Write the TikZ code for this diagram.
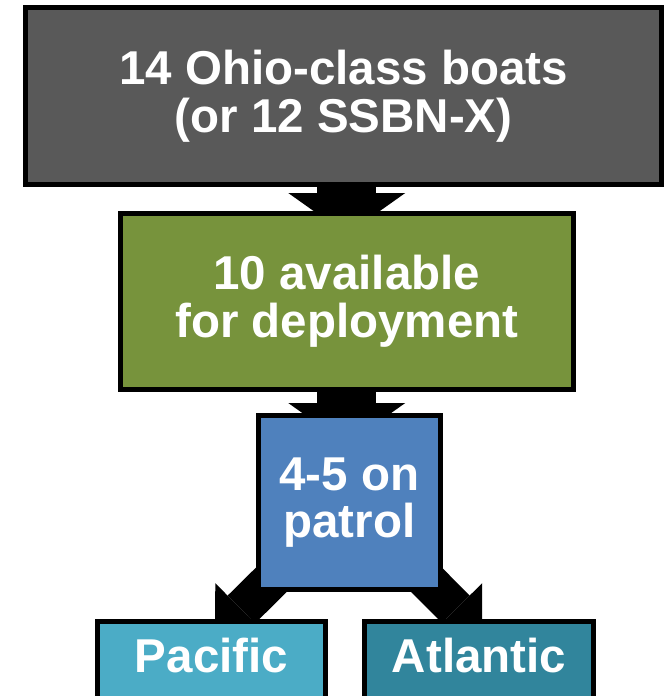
\documentclass[tikz,border=0pt]{standalone}
\usepackage{fontspec}
\setmainfont{Liberation Sans}
\usepackage{xcolor}
\usepackage{tikz}
\usetikzlibrary{arrows.meta, calc, backgrounds}

\definecolor{ohiogrey}{HTML}{595959}
\definecolor{deploygreen}{HTML}{77933C}
\definecolor{patrolblue}{HTML}{4F81BD}
\definecolor{pacificcyan}{HTML}{4BACC6}
\definecolor{atlanticteal}{HTML}{31859C}

\begin{document}
\begin{tikzpicture}[x=1pt,y=-1pt,
    box/.style={draw=black,line width=5pt,text=white,align=center,
                inner sep=0pt,outer sep=0pt,
                font=\fontsize{47.5}{47.5}\selectfont\bfseries},
    bigarrow/.style={line width=59pt,
                -{Triangle[width=117pt,length=41.5pt,line width=0pt]}},
    diagarrow/.style={line width=39pt,
                -{Triangle[width=74pt,length=37pt,line width=0pt]}}]
  \useasboundingbox (0,0) rectangle (665,696);
  \clip (0,0) rectangle (665,696);
  % ---- stacked boxes ----
  \node[box,fill=ohiogrey,minimum width=636pt,minimum height=177pt]
    (ohio) at (343.5,96) {14 Ohio-class boats\\(or 12 SSBN-X)};
  \node[box,fill=deploygreen,minimum width=452.5pt,minimum height=176pt]
    (avail) at (346.75,301) {10 available\\for deployment};
  \node[box,fill=patrolblue,minimum width=182pt,minimum height=174pt]
    (patrol) at (349.5,502.5) {4-5 on\\patrol};
  % ---- the two fleets, cut off at the bottom ----
  \foreach \nm/\cx/\col in {Pacific/211.5/pacificcyan, Atlantic/479/atlanticteal} {
    \node[box,fill=\col,anchor=north,minimum width=228.5pt,
          text height=34.5pt,text depth=40pt,inner ysep=16pt]
      (\nm) at (\cx,621.5) {\nm};
  }
  % ---- block arrows behind the boxes ----
  \begin{scope}[on background layer]
    \draw[bigarrow] (avail.north |- ohio.center) -- ($(avail.north)+(0,21.5)$);
    \draw[bigarrow] (avail.center) -- ($(avail.center |- patrol.north)+(0,29)$);
    \draw[diagarrow] (patrol.center) -- ($(Pacific.north)+(3.5,14)$);
    \draw[diagarrow] (patrol.center) -- ($(Atlantic.north)+(3,14)$);
  \end{scope}
\end{tikzpicture}
\end{document}
